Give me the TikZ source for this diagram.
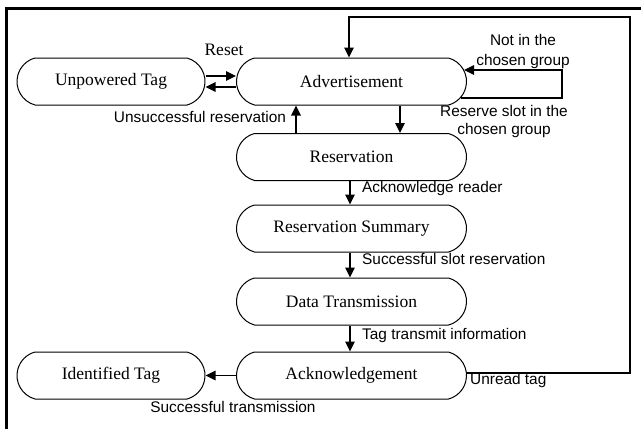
\documentclass[tikz,border=0pt]{standalone}
\usepackage{fontspec}
\setmainfont{Liberation Serif}
\newfontfamily\labfont{Liberation Sans}
\usetikzlibrary{shapes.misc,arrows.meta}
\begin{document}
\begin{tikzpicture}[x=1pt,y=-1pt,
  state/.style={draw, line width=1pt, rounded rectangle, rounded rectangle arc length=150,
    minimum width=230pt, minimum height=47pt, inner sep=0pt,
    font=\fontsize{17.5}{20}\selectfont},
  smallstate/.style={state, minimum width=188pt},
  lab/.style={font=\labfont\fontsize{15.4}{18}\selectfont, inner sep=0pt},
  serlab/.style={font=\fontsize{17.5}{20}\selectfont, inner sep=0pt},
  arr/.style={draw, line width=1.1pt, -{Triangle[length=10pt,width=9.5pt]}},
  frame/.style={draw, line width=2.7pt}]
\useasboundingbox (0,0) rectangle (641,429);
% frame (top and left edges)
\coordinate (ftl) at (6.2,8.5);
\coordinate (ftr) at (641,8.5);
\coordinate (fbl) at (6.2,429);
\draw[frame] (ftr) -- (ftl) -- (fbl);

% states
\node[smallstate] (unp) at (111,81.5) {Unpowered Tag};
\node[state] (adv) at (351.5,81.5) {Advertisement};
\node[state] (res) at (351.5,157) {Reservation};
\node[state] (sum) at (351.5,228.5) {Reservation Summary};
\node[state] (dat) at (351.5,301.5) {Data Transmission};
\node[state] (ack) at (351.5,375.5) {Acknowledgement};
\node[smallstate] (idt) at (111,375.5) {Identified Tag};

% reset arrows
\draw[arr] ([yshift=5.5pt]unp.east) -- ([yshift=5.5pt]adv.west);
\draw[arr] ([yshift=-5.5pt]adv.west) -- ([yshift=-5.5pt]unp.east);
\node[serlab] (lreset) at (224,50) {Reset};

% advertisement <-> reservation
\draw[arr] ([xshift=48.5pt]adv.south) -- ([xshift=48.5pt]res.north);
\draw[arr] ([xshift=-55.5pt]res.north) -- ([xshift=-55.5pt]adv.south);
\node[lab] (lunsucc) at (200,117) {Unsuccessful reservation};

% self loop on advertisement
\coordinate (s1) at (562,70);
\coordinate (s2) at (562,98);
\draw[arr] ([xshift=-6.5pt,yshift=-16.5pt]adv.east) -- (s2) -- (s1) -- ([xshift=-3pt,yshift=11.5pt]adv.east);
\node[lab, align=center, font=\labfont\fontsize{15.4}{20}\selectfont] (lnot) at (523,52) {Not in the\\chosen group};
\node[lab, align=center, font=\labfont\fontsize{15.4}{18}\selectfont] (lreserve) at (504,121.5) {Reserve slot in the\\chosen group};

% main chain
\draw[arr] ([xshift=-1.5pt]res.south) -- ([xshift=-1.5pt]sum.north);
\node[lab, anchor=west] (lack) at (362,189) {Acknowledge reader};
\draw[arr] ([xshift=-1.5pt]sum.south) -- ([xshift=-1.5pt]dat.north);
\node[lab, anchor=west] (lslot) at (362,259) {Successful slot reservation};
\draw[arr] ([xshift=-1.5pt]dat.south) -- ([xshift=-1.5pt]ack.north);
\node[lab, anchor=west] (ltag) at (362,336) {Tag transmit information};

% acknowledgement -> identified
\draw[arr] (ack.west) -- (idt.east);
\node[lab] (lsucc) at (233,407) {Successful transmission};

% unread tag loop
\coordinate (lr) at (630,17);
\coordinate (ll) at (349,17);
\draw[arr] ([yshift=2.5pt]ack.east) -| (lr) -- (ll) -- (ll |- adv.north);
\node[lab, anchor=west] (lunread) at (470,381) {Unread tag};
\end{tikzpicture}
\end{document}
